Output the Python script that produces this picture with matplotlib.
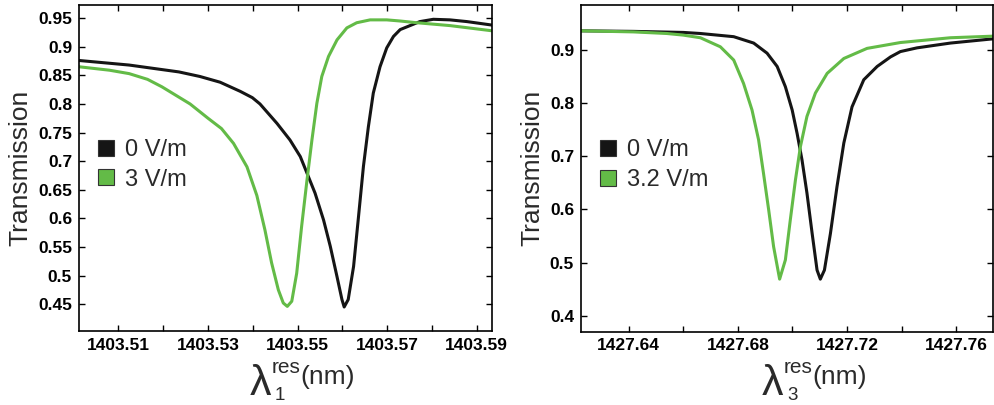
import numpy as np
import matplotlib.pyplot as plt
from matplotlib.lines import Line2D

plt.rcParams['font.family'] = ['Liberation Sans', 'DejaVu Sans']

BLACK = '#151515'
GREEN = '#63bb47'
TXT = '#2a2a2a'

# ---- panel 1: resonance 1 ----
x1_black = [1403.5012, 1403.5124, 1403.5235, 1403.5282, 1403.5327, 1403.5372, 1403.5399,
            1403.5416, 1403.5454, 1403.5483, 1403.5506, 1403.5521, 1403.5539, 1403.5558,
            1403.5573, 1403.5588, 1403.5599, 1403.5604, 1403.5613, 1403.5625, 1403.5636,
            1403.5647, 1403.5658, 1403.5669, 1403.5684, 1403.5699, 1403.5714, 1403.5729,
            1403.5773, 1403.5803, 1403.5840, 1403.5878, 1403.5933]
y1_black = [0.876, 0.868, 0.856, 0.848, 0.838, 0.822, 0.811,
            0.800, 0.766, 0.737, 0.708, 0.679, 0.644, 0.597,
            0.551, 0.498, 0.458, 0.445, 0.458, 0.516, 0.603,
            0.691, 0.760, 0.819, 0.865, 0.898, 0.918, 0.930,
            0.944, 0.948, 0.947, 0.944, 0.938]
x1_green = [1403.5012, 1403.5080, 1403.5124, 1403.5165, 1403.5197, 1403.5260, 1403.5300,
            1403.5330, 1403.5357, 1403.5387, 1403.5409, 1403.5427, 1403.5442, 1403.5457,
            1403.5468, 1403.5477, 1403.5487, 1403.5498, 1403.5509, 1403.5521, 1403.5532,
            1403.5543, 1403.5554, 1403.5569, 1403.5588, 1403.5610, 1403.5632, 1403.5662,
            1403.5699, 1403.5729, 1403.5766, 1403.5840, 1403.5933]
y1_green = [0.865, 0.859, 0.853, 0.843, 0.830, 0.800, 0.775,
            0.757, 0.731, 0.690, 0.640, 0.580, 0.522, 0.475,
            0.452, 0.446, 0.455, 0.504, 0.586, 0.667, 0.737,
            0.801, 0.848, 0.883, 0.912, 0.933, 0.942, 0.947,
            0.947, 0.945, 0.942, 0.937, 0.928]

# ---- panel 2: resonance 3 ----
x3_black = [1427.6229, 1427.6418, 1427.6601, 1427.6663, 1427.6785, 1427.6858, 1427.6907,
            1427.6944, 1427.6974, 1427.6999, 1427.7017, 1427.7035, 1427.7053, 1427.7072,
            1427.7090, 1427.7102, 1427.7117, 1427.7139, 1427.7163, 1427.7188, 1427.7218,
            1427.7261, 1427.7310, 1427.7359, 1427.7395, 1427.7456, 1427.7578, 1427.7735]
y3_black = [0.936, 0.935, 0.933, 0.931, 0.925, 0.913, 0.894,
            0.869, 0.831, 0.787, 0.743, 0.693, 0.631, 0.555,
            0.486, 0.469, 0.486, 0.555, 0.643, 0.725, 0.793,
            0.844, 0.869, 0.887, 0.897, 0.904, 0.913, 0.921]
x3_green = [1427.6229, 1427.6418, 1427.6540, 1427.6600, 1427.6663, 1427.6736, 1427.6785,
            1427.6821, 1427.6852, 1427.6876, 1427.6894, 1427.6913, 1427.6931, 1427.6953,
            1427.6974, 1427.6992, 1427.7011, 1427.7029, 1427.7053, 1427.7084, 1427.7127,
            1427.7188, 1427.7273, 1427.7395, 1427.7578, 1427.7735]
y3_green = [0.936, 0.934, 0.931, 0.928, 0.923, 0.906, 0.881,
            0.837, 0.787, 0.731, 0.668, 0.599, 0.530, 0.469,
            0.505, 0.580, 0.656, 0.718, 0.775, 0.819, 0.856,
            0.884, 0.903, 0.914, 0.923, 0.926]

labels1 = ['0 V/m', '3 V/m']
labels3 = ['0 V/m', '3.2 V/m']

W, H = 995, 405
fig = plt.figure(figsize=(W / 100, H / 100), dpi=100)
ax1 = fig.add_axes([79 / W, 1 - 331 / H, 413 / W, 326 / H])
ax2 = fig.add_axes([581 / W, 1 - 331.5 / H, 412 / W, 326.5 / H])


def style(ax, xlim, ylim, xticks, xlabels, yticks, ylabels):
    ax.set_xlim(*xlim)
    ax.set_ylim(*ylim)
    ax.set_xticks(xticks)
    ax.set_xticklabels(xlabels)
    ax.set_yticks(yticks)
    ax.set_yticklabels(ylabels)
    ax.tick_params(direction='in', top=True, right=True, length=4, width=1,
                   labelsize=12.5, pad=5)
    for lab in ax.get_xticklabels() + ax.get_yticklabels():
        lab.set_fontweight('bold')
    for s in ax.spines.values():
        s.set_linewidth(1.2)
    ax.set_ylabel('Transmission', fontsize=19, color=TXT, labelpad=4)


def xlabel(x0, sub):
    # lambda with res / index, placed in pixel coords of the figure
    def put(x, y, s, size):
        fig.text(x / W, 1 - y / H, s, fontsize=size, color=TXT,
                 ha='left', va='baseline')
    put(x0, 395, '\u03bb', 31)
    put(x0 + 22, 373, 'res', 15)
    put(x0 + 25, 400, sub, 13.5)
    put(x0 + 50, 384, '(nm)', 19)


def add_legend(ax, labels):
    handles = [Line2D([], [], ls='none', marker='s', markersize=11,
                      markerfacecolor=c, markeredgecolor='#333333', markeredgewidth=0.8)
               for c in (BLACK, GREEN)]
    ax.legend(handles, labels, loc='center left', bbox_to_anchor=(0.042, 0.51),
              frameon=False, fontsize=17, handletextpad=0.4, labelspacing=0.33,
              handlelength=0.8, borderpad=0, borderaxespad=0, labelcolor=TXT)


ax1.plot(x1_black, y1_black, color=BLACK, lw=2.2)
ax1.plot(x1_green, y1_green, color=GREEN, lw=2.2)
t1 = np.round(np.arange(1403.51, 1403.595, 0.01), 2)
style(ax1, (1403.5012, 1403.5934), (0.403, 0.973), t1,
      [f'{v:.2f}' if i % 2 == 0 else '' for i, v in enumerate(t1)],
      np.arange(0.45, 0.951, 0.05),
      ['0.45', '0.5', '0.55', '0.6', '0.65', '0.7', '0.75', '0.8', '0.85', '0.9', '0.95'])
add_legend(ax1, labels1)
xlabel(250, '1')

ax2.plot(x3_black, y3_black, color=BLACK, lw=2.2)
ax2.plot(x3_green, y3_green, color=GREEN, lw=2.2)
t3 = np.round(np.arange(1427.64, 1427.765, 0.02), 2)
style(ax2, (1427.6226, 1427.7734), (0.3705, 0.9846), t3,
      [f'{v:.2f}' if i % 2 == 0 else '' for i, v in enumerate(t3)],
      np.arange(0.4, 0.91, 0.1),
      ['0.4', '0.5', '0.6', '0.7', '0.8', '0.9'])
add_legend(ax2, labels3)
xlabel(762, '3')

fig.savefig('out.png', dpi=100)
